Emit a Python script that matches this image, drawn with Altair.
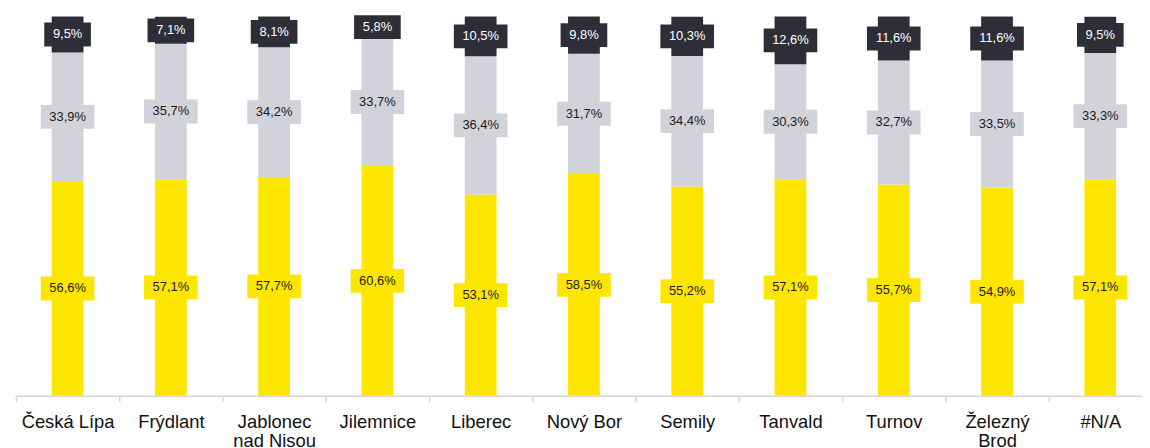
import altair as alt
import pandas as pd

categories = ["Česká Lípa", "Frýdlant", "Jablonec nad Nisou", "Jilemnice", "Liberec",
              "Nový Bor", "Semily", "Tanvald", "Turnov", "Železný Brod", "#N/A"]
yellow_vals = [56.6, 57.1, 57.7, 60.6, 53.1, 58.5, 55.2, 57.1, 55.7, 54.9, 57.1]
gray_vals = [33.9, 35.7, 34.2, 33.7, 36.4, 31.7, 34.4, 30.3, 32.7, 33.5, 33.3]
dark_vals = [9.5, 7.1, 8.1, 5.8, 10.5, 9.8, 10.3, 12.6, 11.6, 11.6, 9.5]
series_names = ["A", "B", "C"]
series_colors = ["#FFE600", "#D2D2DA", "#2E2E38"]
text_colors = ["#1A1A1A", "#1A1A1A", "#FFFFFF"]

rows = []
for s_i, vals in enumerate([yellow_vals, gray_vals, dark_vals]):
    for c, v in zip(categories, vals):
        label = f"{v:.1f}".replace(".", ",") + "%"
        w = 7 * len(label) + 19
        h = 24.0 / w
        path = f"M-1,-{h:.4f}L1,-{h:.4f}L1,{h:.4f}L-1,{h:.4f}Z"
        rows.append({"cat": c, "series": series_names[s_i], "order": s_i, "value": v,
                     "label": label, "box": path, "boxsize": w * w})
df = pd.DataFrame(rows)

xenc = alt.X("cat:N", sort=categories, title=None,
             scale=alt.Scale(paddingInner=0, paddingOuter=0, range=[0, 1144]),
             axis=alt.Axis(labelAngle=0, tickBand="extent", domainColor="#D5D5DC",
                           domainWidth=1.5, tickColor="#D5D5DC", tickWidth=1.5, tickSize=6,
                           labelPadding=11, labelFontSize=18.5, labelFont="Liberation Sans",
                           labelColor="#111111", labelLineHeight=19,
                           labelExpr="length(datum.label) > 10 ? [slice(datum.label, 0, indexof(datum.label, ' ')), slice(datum.label, indexof(datum.label, ' ') + 1)] : datum.label"))
color_scale = alt.Scale(domain=series_names, range=series_colors)
yscale = alt.Scale(domain=[0, 100], nice=False)

bars = alt.Chart(df).mark_bar(width=32).encode(
    x=xenc,
    y=alt.Y("value:Q", stack="zero", scale=yscale, axis=None),
    color=alt.Color("series:N", scale=color_scale, legend=None),
    order=alt.Order("order:Q"),
)

base = alt.Chart(df).transform_stack(
    stack="value", groupby=["cat"], sort=[alt.SortField("order")], as_=["y0", "y1"]
).transform_calculate(mid="(datum.y0 + datum.y1) / 2")

boxes = base.mark_point(filled=True, opacity=1, strokeWidth=0).encode(
    x=alt.X("cat:N", sort=categories),
    y=alt.Y("mid:Q", scale=yscale),
    shape=alt.Shape("box:N", scale=None),
    size=alt.Size("boxsize:Q", scale=None),
    color=alt.Color("series:N", scale=color_scale, legend=None),
)

texts = base.mark_text(fontSize=13, font="Liberation Sans", baseline="middle").encode(
    x=alt.X("cat:N", sort=categories),
    y=alt.Y("mid:Q", scale=yscale),
    text="label:N",
    color=alt.Color("series:N", scale=alt.Scale(domain=series_names, range=text_colors), legend=None),
)

chart = alt.layer(bars, boxes, texts).resolve_scale(color="independent").properties(
    width=1134, height=382,
    autosize=alt.AutoSizeParams(type="none"),
    padding={"left": 8, "top": 7, "right": 0, "bottom": 51},
).configure_view(strokeWidth=0)

chart.save("out.html", embed_options={"renderer": "svg", "actions": False})
